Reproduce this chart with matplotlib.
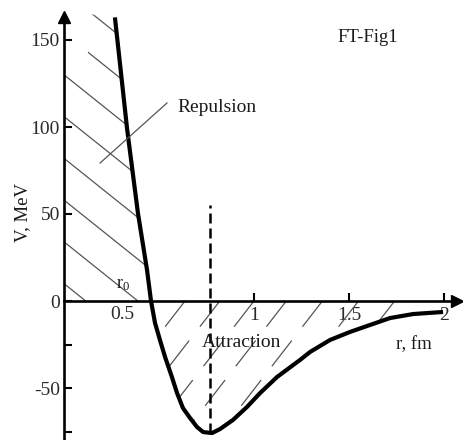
import numpy as np
import matplotlib
matplotlib.use("Agg")
from matplotlib import pyplot as plt
from matplotlib.patches import Polygon

plt.rcParams['font.family'] = ['Liberation Serif', 'DejaVu Serif']
plt.rcParams['mathtext.fontset'] = 'custom'
plt.rcParams['mathtext.rm'] = 'Liberation Serif'
plt.rcParams['mathtext.it'] = 'Liberation Serif:italic'

# nucleon-nucleon potential
r_fm = [0.268, 0.30, 0.332, 0.389, 0.437, 0.458, 0.479, 0.505, 0.532, 0.568,
        0.595, 0.626, 0.663, 0.70, 0.732, 0.779, 0.821, 0.889, 0.963, 1.032,
        1.121, 1.242, 1.295, 1.40, 1.505, 1.61, 1.716, 1.837, 1.995]
v_mev = [163, 131, 99, 50.6, 17.8, 0, -12.6, -22.4, -32.2, -43.7,
         -52.9, -61.5, -67.2, -72.4, -75.3, -75.9, -73.6, -68.4, -60.9, -52.9,
         -43.7, -33.9, -29.3, -22.4, -17.8, -13.8, -9.8, -7.5, -6.3]

r_min = 0.768          # position of the dashed line
v_dash_top = 55

yticks = [150, 100, 50, 0, -25, -50, -75]
ytick_labels = ['150', '100', '50', '0', '', '-50', '']
xticks = [1, 1.5, 2]
xtick_labels = ['1', '1.5', '2']

r = np.array(r_fm)
v = np.array(v_mev)

fig = plt.figure(figsize=(4.64, 4.40), dpi=100)
ax = fig.add_axes([0, 0, 1, 1])
ax.set_xlim(-64 / 190, 400 / 190)
ax.set_ylim(-139 / 1.74, 301 / 1.74)

# axes through the origin
for side in ['top', 'right']:
    ax.spines[side].set_visible(False)
ax.spines['left'].set_position(('data', 0))
ax.spines['bottom'].set_position(('data', 0))
ax.spines['left'].set_bounds(-80, 163)
ax.spines['bottom'].set_bounds(0, 2.07)
ax.spines['left'].set_linewidth(1.9)
ax.spines['bottom'].set_linewidth(1.9)
ax.plot([0], [163], marker='^', ms=9, color='k', clip_on=False)
ax.plot([2.07], [0], marker='>', ms=9, color='k', clip_on=False)

ax.set_yticks(yticks)
ax.set_yticklabels(ytick_labels)
ax.set_xticks(xticks)
ax.set_xticklabels(xtick_labels)
ax.tick_params(axis='both', direction='in', length=6, width=1.5,
               labelsize=14, labelcolor='#2a2a2a')
ax.tick_params(axis='y', pad=3)
ax.tick_params(axis='x', pad=4)

# hatching of the repulsive part
rep_idx = v >= 0
rep_poly = [(0, 0), (0, 140), (0.126, 140), (0.126, 165)]
rep_poly += list(zip(r[rep_idx], v[rep_idx]))
rep_clip = Polygon(rep_poly, closed=True, fill=False, edgecolor='none')
ax.add_patch(rep_clip)
for b in range(10, 200, 24):
    rr = np.array([0, 0.6])
    ln, = ax.plot(rr, b - 87.4 * rr, color='#555555', lw=0.9)
    ln.set_clip_path(rep_clip)

# hatching of the attractive part
att_idx = v <= 0
att_poly = [(r[att_idx][0], 0), (r[att_idx][-1], 0)]
att_poly += list(zip(r[att_idx][::-1], v[att_idx][::-1]))
att_clip = Polygon(att_poly, closed=True, fill=False, edgecolor='none')
ax.add_patch(att_clip)
for r0 in [0.637, 0.82, 1.0, 1.17, 1.36, 1.55, 1.74]:
    vv = np.array([0, -80])
    ln, = ax.plot(r0 + vv / 141, vv, color='#555555', lw=0.9,
                  dashes=(26, 14))
    ln.set_clip_path(att_clip)

# the potential itself
ax.plot(r, v, color='k', lw=3, solid_capstyle='butt', solid_joinstyle='round')
ax.plot([r_min, r_min], [min(v_mev), v_dash_top], color='k', lw=1.8,
        linestyle=(0, (4, 2)))

# labels
ax.plot([0.19, 0.542], [79.3, 113.8], color='#555555', lw=0.9)
ax.text(0.595, 111, 'Repulsion', fontsize=14, va='center', color='#1a1a1a')
ax.text(1.44, 151.7, 'FT-Fig1', fontsize=13.5, va='center', color='#1a1a1a')
ax.text(0.726, -23.6, 'Attraction', fontsize=14, va='center',
        color='#1a1a1a')
ax.text(1.75, -25.3, 'r, fm', fontsize=13.5, va='center', color='#1a1a1a')
ax.text(0.31, 9.5, r'$\mathrm{r}_0$', fontsize=13, ha='center',
        va='center', color='#1a1a1a')
ax.text(0.305, -8, '0.5', fontsize=14, ha='center', va='center',
        color='#2a2a2a')
ax.text(-0.216, 51, 'V, MeV', fontsize=13.5, rotation=90, ha='center',
        va='center', color='#1a1a1a')

fig.savefig('out.png', dpi=100)
